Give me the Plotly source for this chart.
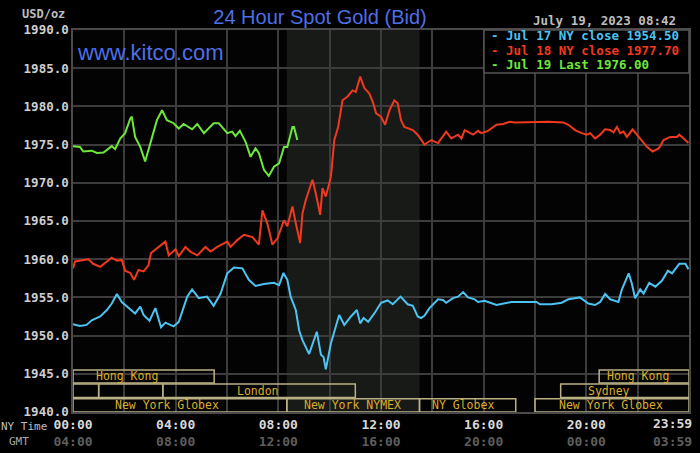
import plotly.graph_objects as go

# Jul 17 NY close series (blue), hours after 00:00 NY time
jul17_h = [0, 0.27, 0.53, 0.73, 1.06, 1.32, 1.51, 1.71, 1.9, 2.1,
           2.42, 2.62, 2.75, 2.98, 3.21, 3.43, 3.6, 3.92, 4.12, 4.45,
           4.64, 4.9, 5.22, 5.48, 5.75, 6.01, 6.27, 6.6, 6.85, 7.11,
           7.44, 7.83, 8.03, 8.2, 8.35, 8.48, 8.68, 8.81, 8.94, 9.2,
           9.33, 9.5, 9.66, 9.76, 9.85, 10.05, 10.37, 10.57, 10.83, 11.06,
           11.19, 11.32, 11.5, 11.74, 12.0, 12.26, 12.46, 12.76, 13.04, 13.24,
           13.43, 13.56, 13.69, 13.89, 14.22, 14.41, 14.54, 14.8, 15.0, 15.2,
           15.39, 15.65, 15.78, 16.04, 16.5, 17.08, 18.06, 18.19, 18.65, 19.04,
           19.3, 19.75, 20.08, 20.34, 20.54, 20.73, 20.93, 21.25, 21.38, 21.65,
           21.77, 21.9, 22.1, 22.23, 22.45, 22.69, 22.95, 23.18, 23.34, 23.62,
           23.86, 23.98]
jul17_v = [1951.5, 1951.25, 1951.4, 1952.0, 1952.5, 1953.35, 1954.2, 1955.45, 1954.4, 1953.8,
           1952.9, 1953.8, 1952.7, 1951.95, 1953.6, 1951.1, 1951.7, 1951.2, 1951.8, 1955.1,
           1956.05, 1954.9, 1955.1, 1953.9, 1955.5, 1958.15, 1958.9, 1958.8, 1957.3, 1956.5,
           1956.75, 1956.9, 1956.6, 1958.2, 1957.3, 1955.1, 1953.35, 1950.7, 1949.4, 1947.6,
           1948.8, 1950.5, 1947.5, 1947.2, 1945.6, 1949.0, 1952.7, 1951.4, 1952.5, 1953.35,
           1951.6, 1952.3, 1951.8, 1952.9, 1954.3, 1954.6, 1954.1, 1955.1, 1954.1, 1953.9,
           1952.5, 1952.3, 1952.6, 1953.6, 1954.75, 1954.65, 1954.3, 1954.9, 1955.1, 1955.7,
           1955.0, 1954.75, 1954.4, 1954.55, 1954.0, 1954.4, 1954.4, 1954.1, 1954.1, 1954.3,
           1954.75, 1955.0, 1954.2, 1954.0, 1954.4, 1955.45, 1954.75, 1954.4, 1956.0, 1958.15,
           1956.85, 1954.9, 1956.05, 1955.5, 1956.9, 1956.4, 1957.2, 1958.5, 1958.15, 1959.4,
           1959.4, 1958.7]

# Jul 18 NY close series (red)
jul18_h = [0, 0.08, 0.6, 0.79, 1.06, 1.25, 1.51, 1.71, 1.9, 2.03,
           2.23, 2.38, 2.55, 2.75, 2.94, 3.04, 3.27, 3.6, 3.73, 3.99,
           4.12, 4.38, 4.57, 4.84, 5.16, 5.36, 5.62, 6.01, 6.14, 6.4,
           6.66, 6.99, 7.24, 7.38, 7.57, 7.77, 7.96, 8.22, 8.35, 8.55,
           8.68, 8.85, 8.94, 9.07, 9.33, 9.46, 9.63, 9.72, 9.85, 10.05,
           10.18, 10.33, 10.5, 10.7, 10.89, 11.02, 11.19, 11.35, 11.54, 11.68,
           11.81, 12.0, 12.16, 12.33, 12.52, 12.65, 12.78, 12.91, 13.24, 13.43,
           13.69, 13.96, 14.22, 14.54, 14.74, 15.0, 15.13, 15.26, 15.59, 15.78,
           15.91, 16.17, 16.5, 16.76, 17.02, 17.21, 18.13, 18.52, 19.1, 19.3,
           19.56, 19.82, 20.02, 20.15, 20.34, 20.54, 20.73, 20.93, 21.06, 21.19,
           21.32, 21.45, 21.58, 21.8, 21.97, 22.17, 22.36, 22.58, 22.82, 23.01,
           23.27, 23.53, 23.62, 23.79, 23.98]
jul18_v = [1958.8, 1959.7, 1960.0, 1959.4, 1959.0, 1959.5, 1960.2, 1959.8, 1959.9, 1958.5,
           1958.2, 1957.3, 1958.6, 1958.4, 1959.2, 1960.8, 1961.4, 1962.3, 1960.5, 1961.3,
           1960.4, 1961.6, 1961.0, 1960.5, 1961.6, 1961.0, 1961.6, 1962.3, 1961.6, 1962.5,
           1963.2, 1962.9, 1961.9, 1966.4, 1964.7, 1961.9, 1962.7, 1965.1, 1964.3, 1966.9,
           1964.7, 1962.1, 1966.0, 1967.75, 1970.4, 1968.6, 1965.8, 1969.3, 1968.2, 1970.8,
           1975.6, 1977.3, 1980.8, 1981.3, 1982.1, 1981.9, 1983.9, 1982.4, 1981.7, 1980.6,
           1979.1, 1978.65, 1977.6, 1979.5, 1980.8, 1980.4, 1978.2, 1977.3, 1976.9, 1976.3,
           1975.0, 1975.6, 1975.2, 1976.7, 1975.8, 1976.3, 1975.8, 1976.9, 1976.3, 1976.8,
           1976.5, 1976.8, 1977.6, 1977.7, 1978.0, 1977.9, 1977.95, 1978.0, 1977.9, 1977.6,
           1976.9, 1976.5, 1976.3, 1976.5, 1975.8, 1976.3, 1977.0, 1976.9, 1976.6, 1977.3,
           1976.5, 1976.7, 1976.0, 1977.0, 1976.3, 1975.4, 1974.7, 1974.1, 1974.5, 1975.6,
           1976.0, 1976.0, 1976.3, 1975.8, 1975.2]

# Jul 19 live series (green), up to 08:42
jul19_h = [0, 0.27, 0.4, 0.73, 0.93, 1.19, 1.51, 1.64, 1.84, 2.03,
           2.23, 2.29, 2.42, 2.62, 2.81, 2.94, 3.27, 3.47, 3.66, 3.92,
           4.12, 4.31, 4.64, 4.84, 5.1, 5.48, 5.68, 6.01, 6.2, 6.33,
           6.5, 6.72, 6.92, 7.11, 7.24, 7.44, 7.63, 7.83, 8.03, 8.22,
           8.35, 8.55, 8.61, 8.74]
jul19_v = [1974.8, 1974.7, 1974.1, 1974.2, 1973.9, 1973.95, 1974.8, 1974.4, 1975.8, 1976.5,
           1978.4, 1978.65, 1976.0, 1974.7, 1972.8, 1974.3, 1978.2, 1979.5, 1978.2, 1977.8,
           1977.1, 1977.7, 1977.0, 1977.7, 1976.5, 1977.8, 1977.8, 1976.5, 1976.7, 1976.1,
           1976.8, 1975.4, 1973.4, 1974.5, 1973.9, 1971.7, 1970.9, 1972.1, 1972.55, 1974.7,
           1974.7, 1977.3, 1977.3, 1975.6]

legend_lines = ["- Jul 17 NY close 1954.50",
                "- Jul 18 NY close 1977.70",
                "- Jul 19 Last 1976.00"]
colors = ["#4cc3f0", "#f0391f", "#6ee83a"]

# trading sessions along the bottom (row 1 = top row)
sess_name = ["Hong Kong", "", "", "London", "New York Globex", "New York NYMEX",
             "NY Globex", "Hong Kong", "Sydney", "New York Globex"]
sess_row = [1, 2, 2, 2, 3, 3, 3, 1, 2, 3]
sess_start = [0, 0, 1.0, 3.5, 0, 8.33, 13.5, 20.5, 19.0, 18.0]
sess_end = [5.5, 1.0, 3.5, 11.0, 8.33, 13.5, 17.25, 24, 24, 24]
sess_label_h = [2.1, None, None, 7.2, 3.65, 10.9, 15.2, 22.0, 20.9, 20.95]
row_bounds = {1: (1943.8, 1945.5), 2: (1941.9, 1943.65), 3: (1940.0, 1941.75)}

ny_ticks = ["00:00", "04:00", "08:00", "12:00", "16:00", "20:00", "23:59"]
gmt_ticks = ["04:00", "08:00", "12:00", "16:00", "20:00", "00:00", "03:59"]
tick_h = [0, 4, 8, 12, 16, 20, 23.983]

MONO = "DejaVu Sans Mono"
L, R, T, B = 73, 689, 30, 412
W, H = 700, 453


def px(x, y):
    return (x - L) / (R - L), (B - y) / (B - T)


fig = go.Figure()

# NYMEX shaded hours
fig.add_shape(type="rect", x0=8.33, x1=13.5, y0=1940, y1=1990, xref="x", yref="y",
              fillcolor="#171a17", line_width=0, layer="below")

for h, v, c in zip([jul17_h, jul18_h, jul19_h], [jul17_v, jul18_v, jul19_v], colors):
    fig.add_trace(go.Scatter(x=h, y=v, mode="lines", line=dict(color=c, width=2),
                             showlegend=False, hoverinfo="skip"))

for name, row, s, e, lh in zip(sess_name, sess_row, sess_start, sess_end, sess_label_h):
    y0, y1 = row_bounds[row]
    fig.add_shape(type="rect", x0=s, x1=e, y0=y0, y1=y1, xref="x", yref="y",
                  line=dict(color="#b9b184", width=1.5), fillcolor="rgba(0,0,0,0)", layer="above")
    if name:
        fig.add_annotation(x=lh, y=(y0 + y1) / 2, xref="x", yref="y", text=name,
                           showarrow=False, font=dict(family=MONO, size=11.5, color="#dcae2c"))

# legend box
bx0, by0 = px(484, 73)
fig.add_shape(type="rect", x0=bx0, x1=1, y0=by0, y1=1, xref="paper", yref="paper",
              fillcolor="#000000", line=dict(color="#555555", width=1.5), layer="above")
for i, (txt, c) in enumerate(zip(legend_lines, colors)):
    ax, ay = px(489, 36 + 14 * i)
    fig.add_annotation(x=ax, y=ay, xref="paper", yref="paper", text=txt, showarrow=False,
                       xanchor="left", yanchor="middle",
                       font=dict(family=MONO, size=12.5, color=c, weight="bold"))

ax, ay = px(678, 21)
fig.add_annotation(x=ax, y=ay, xref="paper", yref="paper", text="July 19, 2023 08:42",
                   showarrow=False, xanchor="right", yanchor="middle",
                   font=dict(family=MONO, size=12.5, color="#bdbdbd", weight="bold"))

ax, ay = px(75, 52)
fig.add_annotation(x=ax, y=ay, xref="paper", yref="paper", text="www.kitco.com",
                   showarrow=False, xanchor="left", yanchor="middle",
                   font=dict(family="Liberation Sans", size=22, color="#4e6fe6"))

ax, ay = px(67, 14)
fig.add_annotation(x=ax, y=ay, xref="paper", yref="paper", text="USD/oz",
                   showarrow=False, xanchor="right", yanchor="middle",
                   font=dict(family=MONO, size=12, color="#bdbdbd", weight="bold"))

ax, ay = px(49, 426)
fig.add_annotation(x=ax, y=ay, xref="paper", yref="paper", text="NY Time",
                   showarrow=False, xanchor="right", yanchor="middle",
                   font=dict(family=MONO, size=11, color="#bdbdbd"))
ax, ay = px(31, 441)
fig.add_annotation(x=ax, y=ay, xref="paper", yref="paper", text="GMT",
                   showarrow=False, xanchor="right", yanchor="middle",
                   font=dict(family=MONO, size=11, color="#a8a8a8"))

ticktext = ["%s<br><span style='color:#5e5e5e'>%s</span>" % (a, b)
            for a, b in zip(ny_ticks, gmt_ticks)]

# the last tick label sits left of the right edge, so draw it as text
for txt, yy, col in [(ny_ticks[-1], 424, "#d8d8d8"), (gmt_ticks[-1], 441, "#5e5e5e")]:
    ax, ay = px(694, yy)
    fig.add_annotation(x=ax, y=ay, xref="paper", yref="paper", text=txt,
                       showarrow=False, xanchor="right", yanchor="middle",
                       font=dict(family=MONO, size=13, color=col, weight="bold"))

fig.update_layout(
    width=W, height=H,
    margin=dict(l=L, r=W - R, t=T, b=H - B),
    paper_bgcolor="#000000", plot_bgcolor="#030303",
    title=dict(text="24 Hour Spot Gold (Bid)", x=320 / W, xanchor="center",
               y=1 - 17 / H, yanchor="middle",
               font=dict(family="Liberation Sans", size=20, color="#4e6fe6")),
    xaxis=dict(range=[0, 24], tickvals=tick_h[:-1], ticktext=ticktext[:-1],
               automargin=False,
               showgrid=True, gridcolor="#3c3c3c", gridwidth=1.5,
               minor=dict(tickvals=[2, 6, 10, 14, 18, 22], showgrid=True,
                          gridcolor="#3c3c3c", gridwidth=1.5),
               showline=True, linecolor="#4a4a4a", linewidth=1.5, mirror=True,
               zeroline=False, ticks="",
               tickfont=dict(family=MONO, size=13, color="#d8d8d8", weight="bold")),
    yaxis=dict(range=[1940, 1990], tickvals=list(range(1940, 1991, 5)),
               automargin=False,
               tickformat=".1f", showgrid=True, gridcolor="#3c3c3c", gridwidth=1.5,
               showline=True, linecolor="#4a4a4a", linewidth=1.5, mirror=True,
               zeroline=False, ticks="",
               tickfont=dict(family=MONO, size=12.5, color="#cfcfcf", weight="bold")),
)

fig.write_html("out.html", config={"displayModeBar": False},
               post_script="document.body.style.margin='0';document.body.style.background='#000';")
